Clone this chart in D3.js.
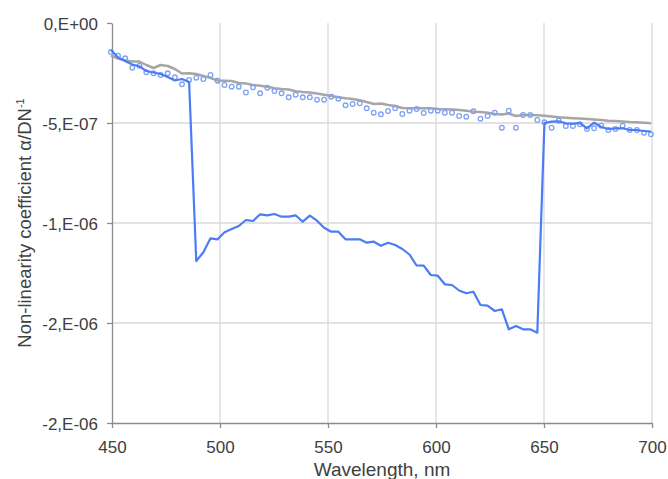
<!DOCTYPE html>
<html><head><meta charset="utf-8">
<script src="https://cdn.jsdelivr.net/npm/d3@7"></script>
<style>html,body{margin:0;padding:0;background:#fff;}svg{display:block;font-family:"Liberation Sans",Arial,sans-serif;}</style>
</head><body>
<script>
// wavelength grid (nm)
const wavelengths = [449.5,452.8,456.1,459.4,462.7,465.9,469.2,472.5,475.8,479.1,482.4,485.7,489.0,492.3,495.6,498.9,502.1,505.4,508.7,512.0,515.3,518.6,521.9,525.2,528.5,531.8,535.0,538.3,541.6,544.9,548.2,551.5,554.8,558.1,561.4,564.7,567.9,571.2,574.5,577.8,581.1,584.4,587.7,591.0,594.3,597.6,600.8,604.1,607.4,610.7,614.0,617.3,620.6,623.9,627.2,630.5,633.7,637.0,640.3,643.6,646.9,650.2,653.5,656.8,660.1,663.4,666.6,669.9,673.2,676.5,679.8,683.1,686.4,689.7,693.0,696.3,699.5];
// values in units of 1e-7 DN^-1
const grayLine = [-1.625,-1.775,-1.875,-1.925,-1.925,-2.1,-2.25,-2.1,-2.15,-2.3,-2.525,-2.515,-2.55,-2.65,-2.75,-2.875,-2.885,-2.9,-3.0,-3.025,-3.1,-3.14,-3.19,-3.265,-3.3,-3.325,-3.415,-3.45,-3.475,-3.525,-3.585,-3.65,-3.715,-3.765,-3.8,-3.865,-3.95,-4.05,-4.025,-4.1,-4.15,-4.25,-4.265,-4.265,-4.265,-4.265,-4.3,-4.315,-4.325,-4.35,-4.385,-4.435,-4.45,-4.485,-4.55,-4.575,-4.525,-4.65,-4.6,-4.6,-4.615,-4.635,-4.675,-4.715,-4.74,-4.76,-4.775,-4.8,-4.825,-4.85,-4.885,-4.9,-4.925,-4.95,-4.965,-4.99,-5.015];
const circles = [-1.45,-1.635,-1.765,-2.235,-2.135,-2.465,-2.515,-2.6,-2.515,-2.715,-3.065,-2.85,-2.735,-2.8,-2.6,-2.885,-3.1,-3.185,-3.185,-3.475,-3.215,-3.515,-3.235,-3.4,-3.515,-3.715,-3.585,-3.715,-3.715,-3.835,-3.835,-3.685,-3.785,-4.115,-4.05,-4.015,-4.265,-4.485,-4.565,-4.4,-4.265,-4.55,-4.385,-4.3,-4.5,-4.385,-4.385,-4.485,-4.485,-4.65,-4.685,-4.415,-4.785,-4.65,-4.485,-5.235,-4.385,-5.235,-4.6,-4.6,-4.85,-4.965,-5.235,-4.885,-5.15,-5.15,-5.065,-5.3,-5.265,-5.135,-5.35,-5.3,-5.135,-5.35,-5.35,-5.485,-5.565];
const blueLine = [-1.35,-1.725,-1.9,-2.075,-2.165,-2.4,-2.475,-2.55,-2.7,-2.875,-2.8,-2.95,-11.9,-11.465,-10.765,-10.815,-10.465,-10.3,-10.15,-9.85,-9.9,-9.565,-9.615,-9.55,-9.685,-9.685,-9.615,-9.935,-9.635,-9.885,-10.235,-10.435,-10.435,-10.815,-10.815,-10.815,-10.985,-10.935,-11.135,-10.985,-11.1,-11.3,-11.575,-12.125,-12.135,-12.6,-12.635,-13.065,-13.1,-13.375,-13.515,-13.435,-14.1,-14.135,-14.4,-14.315,-15.315,-15.15,-15.315,-15.315,-15.485,-5.0,-4.935,-4.915,-5.015,-5.035,-5.0,-5.265,-4.985,-5.2,-5.3,-5.265,-5.265,-5.35,-5.35,-5.4,-5.425];
const xTicks = [450,500,550,600,650,700];
const yTicks = [0,-5,-10,-15,-20];
const yTickLabels = ["0,E+00","-5,E-07","-1,E-06","-2,E-06","-2,E-06"];
const xTitle = "Wavelength, nm";

const W = 668, H = 479;
const L = 112, R = 652, T = 23, B = 423;
const svg = d3.select("body").append("svg").attr("width", W).attr("height", H);
const x = d3.scaleLinear().domain([450,700]).range([L,R]);
const y = d3.scaleLinear().domain([0,-20]).range([T,B]);

// grid
svg.append("g").selectAll("line.v").data(xTicks.slice(1)).join("line")
  .attr("x1", d=>x(d)).attr("x2", d=>x(d)).attr("y1", T).attr("y2", B)
  .attr("stroke", "#d9d9d9").attr("stroke-width", 1.3);
svg.append("g").selectAll("line.h").data(yTicks.slice(1,4)).join("line")
  .attr("x1", L).attr("x2", R).attr("y1", d=>y(d)).attr("y2", d=>y(d))
  .attr("stroke", "#d9d9d9").attr("stroke-width", 1.3);

// axes
const xAxis = svg.append("g").attr("transform", `translate(0,${B})`)
  .call(d3.axisBottom(x).tickValues(xTicks).tickSize(5).tickSizeOuter(0).tickFormat(d3.format("d")));
const yAxis = svg.append("g").attr("transform", `translate(${L},0)`)
  .call(d3.axisLeft(y).tickValues(yTicks).tickSize(5).tickSizeOuter(0).tickFormat((d,i)=>yTickLabels[i]));
[xAxis, yAxis].forEach(a=>{
  a.select(".domain").attr("stroke", "#8c8c8c").attr("stroke-width", 1.3);
  a.selectAll(".tick line").attr("stroke", "#8c8c8c").attr("stroke-width", 1.3);
  a.selectAll("text").attr("fill", "#404040").style("font-size", "17px").style("font-family", "Liberation Sans, Arial, sans-serif");
});
xAxis.selectAll("text").attr("dy", null).attr("y", 30);
yAxis.selectAll("text").attr("x", -14).attr("dy", "0.36em");

// series
const pts = (arr)=>arr.map((v,i)=>[wavelengths[i], v]);
const line = d3.line().x(d=>x(d[0])).y(d=>y(d[1]));
svg.append("path").datum(pts(grayLine)).attr("d", line)
  .attr("fill","none").attr("stroke","#a6a6a6").attr("stroke-width",2.5).attr("stroke-linejoin","round");
svg.append("g").selectAll("circle").data(pts(circles)).join("circle")
  .attr("cx", d=>x(d[0])).attr("cy", d=>y(d[1])).attr("r", 2.3)
  .attr("fill","none").attr("stroke","#7fa0f4").attr("stroke-width",1.3);
svg.append("path").datum(pts(blueLine)).attr("d", line)
  .attr("fill","none").attr("stroke","#4a7cf6").attr("stroke-width",2.2).attr("stroke-linejoin","round");

// titles
svg.append("text").attr("x", (L+R)/2).attr("y", 476).attr("text-anchor","middle")
  .attr("fill","#404040").style("font-size","19px").text(xTitle);
const yt = svg.append("text").attr("transform", `translate(31,${(T+B)/2}) rotate(-90)`)
  .attr("text-anchor","middle").attr("fill","#404040").style("font-size","18.5px");
yt.append("tspan").text("Non-linearity coefficient α/DN");
yt.append("tspan").attr("dy", -7).style("font-size","11px").text("-1");
</script>
</body></html>
